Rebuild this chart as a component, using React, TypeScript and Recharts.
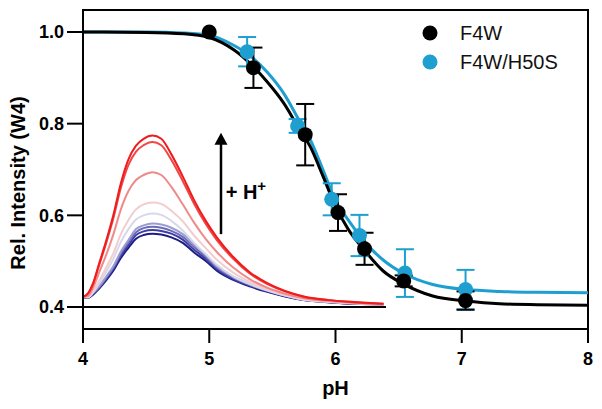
import React from 'react';
import {
  ComposedChart,
  Line,
  Scatter,
  XAxis,
  YAxis,
  ErrorBar,
  ReferenceLine,
  ReferenceDot,
  ReferenceArea,
  CartesianGrid,
  Legend,
} from 'recharts';

const FONT = '"Liberation Sans", Arial, Helvetica, sans-serif';
const BLACK = '#000000';
const BLUE = '#1e9fd0';

// ---- axis ticks ----
const xTicks = [4, 5, 6, 7, 8];
const yTicks = [0.4, 0.6, 0.8, 1.0];
const xDomain = [4, 8];
const yDomain = [0.352, 1.048];

// ---- titration points ----
const f4wPH = [5.0, 5.35, 5.76, 6.02, 6.23, 6.54, 7.03];
const f4wRel = [1.0, 0.922, 0.776, 0.606, 0.527, 0.457, 0.414];
const f4wErr = [0, 0.044, 0.067, 0.04, 0.035, 0.012, 0.02];

const h50sPH = [5.3, 5.7, 5.97, 6.19, 6.55, 7.03];
const h50sRel = [0.957, 0.795, 0.635, 0.556, 0.474, 0.438];
const h50sErr = [0.032, 0.015, 0.035, 0.045, 0.052, 0.043];

// ---- fitted curves ----
const fitF4wPH = [4.0, 4.5, 4.8, 5.0, 5.2, 5.35, 5.46, 5.59, 5.72, 5.8, 5.9, 6.0, 6.1, 6.22, 6.38, 6.54, 6.77, 7.04, 7.3, 7.6, 8.0];
const fitF4wRel = [1.0, 0.999, 0.996, 0.988, 0.96, 0.924, 0.891, 0.845, 0.785, 0.75, 0.686, 0.62, 0.57, 0.527, 0.478, 0.45, 0.424, 0.413, 0.407, 0.405, 0.404];

const fitH50sPH = [4.0, 4.5, 4.8, 5.0, 5.2, 5.33, 5.46, 5.59, 5.72, 5.8, 5.9, 6.0, 6.1, 6.2, 6.3, 6.38, 6.54, 6.77, 7.04, 7.3, 7.6, 8.0];
const fitH50sRel = [1.0, 1.0, 0.998, 0.993, 0.97, 0.947, 0.912, 0.866, 0.803, 0.765, 0.7, 0.632, 0.59, 0.553, 0.522, 0.502, 0.473, 0.449, 0.438, 0.434, 0.432, 0.431];

// ---- inset emission spectra (plotted on the same axes) ----
const specX = [4.0, 4.04, 4.08, 4.13, 4.18, 4.24, 4.3, 4.36, 4.42, 4.48, 4.55, 4.62, 4.7, 4.79, 4.88, 4.97, 5.06, 5.19, 5.32, 5.46, 5.6, 5.75, 5.95, 6.15, 6.38];
const spec1 = [0.422, 0.43, 0.452, 0.497, 0.541, 0.6, 0.67, 0.722, 0.752, 0.767, 0.774, 0.767, 0.733, 0.685, 0.633, 0.589, 0.552, 0.509, 0.476, 0.452, 0.435, 0.423, 0.415, 0.411, 0.407];
const spec2 = [0.422, 0.429, 0.45, 0.493, 0.536, 0.593, 0.66, 0.71, 0.739, 0.753, 0.76, 0.753, 0.721, 0.675, 0.625, 0.582, 0.546, 0.505, 0.473, 0.45, 0.434, 0.422, 0.415, 0.41, 0.407];
const spec3 = [0.422, 0.424, 0.442, 0.477, 0.511, 0.558, 0.613, 0.653, 0.677, 0.688, 0.694, 0.688, 0.662, 0.624, 0.584, 0.549, 0.52, 0.486, 0.461, 0.442, 0.429, 0.419, 0.413, 0.409, 0.406];
const spec4 = [0.422, 0.423, 0.435, 0.458, 0.484, 0.517, 0.559, 0.59, 0.613, 0.624, 0.628, 0.625, 0.61, 0.587, 0.556, 0.529, 0.503, 0.475, 0.455, 0.439, 0.427, 0.417, 0.412, 0.408, 0.406];
const spec5 = [0.422, 0.421, 0.432, 0.453, 0.475, 0.505, 0.542, 0.57, 0.591, 0.6, 0.604, 0.601, 0.588, 0.567, 0.54, 0.516, 0.492, 0.467, 0.45, 0.436, 0.425, 0.416, 0.411, 0.408, 0.406];
const spec6 = [0.422, 0.422, 0.431, 0.446, 0.465, 0.489, 0.521, 0.546, 0.57, 0.578, 0.582, 0.58, 0.573, 0.559, 0.536, 0.514, 0.489, 0.466, 0.45, 0.437, 0.425, 0.416, 0.411, 0.408, 0.406];
const spec7 = [0.422, 0.421, 0.43, 0.444, 0.462, 0.486, 0.517, 0.541, 0.563, 0.572, 0.575, 0.573, 0.566, 0.553, 0.531, 0.51, 0.486, 0.464, 0.448, 0.436, 0.425, 0.416, 0.411, 0.407, 0.406];
const spec8 = [0.422, 0.42, 0.429, 0.443, 0.46, 0.483, 0.512, 0.535, 0.557, 0.565, 0.568, 0.566, 0.56, 0.547, 0.525, 0.506, 0.483, 0.461, 0.447, 0.434, 0.424, 0.415, 0.411, 0.407, 0.406];
const spec9 = [0.422, 0.42, 0.427, 0.441, 0.457, 0.479, 0.507, 0.529, 0.549, 0.557, 0.56, 0.558, 0.552, 0.54, 0.519, 0.501, 0.479, 0.459, 0.445, 0.433, 0.423, 0.415, 0.41, 0.407, 0.406];
const specColors = ['#ee1c1c', '#f24545', '#f08a8a', '#f3cdcd', '#d8d8ec', '#9c9cd2', '#6a6ab8', '#3c3ca2', '#1c1c86'];
const spectra = [spec1, spec2, spec3, spec4, spec5, spec6, spec7, spec8, spec9];

// baseline under spectra
const baseX = [4.0, 6.4];
const baseY = [0.4, 0.4];

// arrow (+H+) annotation
const arrowX = 5.093;
const arrowFrom = 0.559;
const arrowTo = 0.78;
const hTextX = 5.13;
const hTextY = 0.635;

const legendNames = ['F4W', 'F4W/H50S'];
const legendColors = [BLACK, BLUE];

const toXY = (xs: number[], ys: number[]) => xs.map((x, i) => ({ x, y: ys[i] }));
const toXYE = (xs: number[], ys: number[], es: number[]) => xs.map((x, i) => ({ x, y: ys[i], err: es[i] }));

const f4wData = toXYE(f4wPH, f4wRel, f4wErr);
const h50sData = toXYE(h50sPH, h50sRel, h50sErr);
const fitF4w = toXY(fitF4wPH, fitF4wRel);
const fitH50s = toXY(fitH50sPH, fitH50sRel);
const spectraData = spectra.map((s) => toXY(specX, s));
const baseData = toXY(baseX, baseY);

// chart geometry
const CHART_W = 602;
const CHART_H = 409;
const MARGIN = { top: 10, right: 14, bottom: 0, left: 0 };
const Y_AXIS_W = 83;
const X_AXIS_H = 80;

const XTitle = (props: any) => {
  const vb = props.viewBox || { x: 83, y: 329, width: 505, height: 80 };
  return (
    <text x={vb.x + vb.width / 2} y={vb.y + 66} textAnchor="middle" fontFamily={FONT} fontWeight={700} fontSize={20} fill={BLACK}>
      pH
    </text>
  );
};

const YTitle = (props: any) => {
  const vb = props.viewBox || { x: 0, y: 10, width: 83, height: 319 };
  const x = vb.x + 24.5;
  const y = vb.y + vb.height / 2 + 13.5;
  return (
    <text x={x} y={y} transform={`rotate(-90 ${x} ${y})`} textAnchor="middle" fontFamily={FONT} fontWeight={700} fontSize={20} fill={BLACK}>
      Rel. Intensity (W4)
    </text>
  );
};

const LegendBox = () => (
  <div style={{ fontFamily: FONT, fontSize: 20, color: '#111' }}>
    {legendNames.map((n, i) => (
      <div key={n} style={{ display: 'flex', alignItems: 'center', height: 29 }}>
        <svg width={16} height={16} style={{ display: 'block' }}>
          <circle cx={8} cy={8} r={7.5} fill={legendColors[i]} />
        </svg>
        <span style={{ marginLeft: 22, lineHeight: '29px' }}>{n}</span>
      </div>
    ))}
  </div>
);

const Arrow = (p: any) => {
  const { x1, y1, x2, y2 } = p;
  const head = 12;
  const half = 6.5;
  const top = Math.min(y1, y2);
  const bottom = Math.max(y1, y2);
  return (
    <g>
      <line x1={x1} y1={bottom} x2={x2} y2={top + head - 1} stroke={BLACK} strokeWidth={2.5} />
      <polygon points={`${x1},${top} ${x1 - half},${top + head} ${x1 + half},${top + head}`} fill={BLACK} />
    </g>
  );
};

const HText = (p: any) => (
  <text x={p.cx} y={p.cy} fontFamily={FONT} fontWeight={700} fontSize={20} fill={BLACK}>
    + H
    <tspan dy={-8} fontSize={15}>+</tspan>
  </text>
);

// frame drawn from the area's own rectangle (top and right edges)
const FrameShape = (p: any) => {
  const { x, y, width, height } = p;
  if (![x, y, width, height].every((v) => typeof v === 'number' && isFinite(v))) return null;
  return (
    <path
      d={`M${x},${y} L${x + width},${y} L${x + width},${y + height}`}
      fill="none"
      stroke={BLACK}
      strokeWidth={2}
      strokeLinecap="square"
    />
  );
};

const dotShape = (color: string) => (p: any) => <circle cx={p.cx} cy={p.cy} r={7.5} fill={color} />;

export default function App() {
  return (
    <div style={{ width: CHART_W, height: CHART_H, marginLeft: -8, marginTop: -8, background: '#ffffff' }}>
      <ComposedChart width={CHART_W} height={CHART_H} margin={MARGIN}>
        <CartesianGrid
          horizontal
          vertical
          stroke={BLACK}
          strokeWidth={2}
          horizontalCoordinatesGenerator={(p: any) => [p.offset.top]}
          verticalCoordinatesGenerator={(p: any) => [p.offset.left + p.offset.width]}
        />
        <XAxis
          dataKey="x"
          type="number"
          domain={xDomain}
          ticks={xTicks}
          interval={0}
          height={X_AXIS_H}
          tickSize={14}
          tickMargin={9}
          axisLine={{ stroke: BLACK, strokeWidth: 2 }}
          tickLine={{ stroke: BLACK, strokeWidth: 2 }}
          tick={{ fill: BLACK, fontSize: 18, fontWeight: 700, fontFamily: FONT }}
          label={<XTitle />}
          allowDataOverflow
        />
        <YAxis
          type="number"
          domain={yDomain}
          ticks={yTicks}
          interval={0}
          width={Y_AXIS_W}
          tickSize={16}
          tickMargin={3}
          tickFormatter={(v: number) => v.toFixed(1)}
          axisLine={{ stroke: BLACK, strokeWidth: 2 }}
          tickLine={{ stroke: BLACK, strokeWidth: 2 }}
          tick={{ fill: BLACK, fontSize: 18, fontWeight: 700, fontFamily: FONT }}
          label={<YTitle />}
          allowDataOverflow
        />

        <ReferenceArea
          x1={xDomain[0]}
          x2={xDomain[1]}
          y1={yDomain[0]}
          y2={yDomain[1]}
          ifOverflow="visible"
          fill="none"
          stroke={BLACK}
          strokeWidth={2}
          shape={FrameShape}
        />

        {spectraData
          .map((d, i) => (
            <Line
              key={`spec${i}`}
              data={d}
              dataKey="y"
              type="monotone"
              stroke={specColors[i]}
              strokeWidth={2}
              dot={false}
              activeDot={false}
              isAnimationActive={false}
              legendType="none"
            />
          ))
          .reverse()}

        <Line data={baseData} dataKey="y" type="linear" stroke={BLACK} strokeWidth={2} dot={false} activeDot={false} isAnimationActive={false} legendType="none" />

        <Line data={fitH50s} dataKey="y" type="monotone" stroke={BLUE} strokeWidth={3} dot={false} activeDot={false} isAnimationActive={false} legendType="none" />
        <Line data={fitF4w} dataKey="y" type="monotone" stroke={BLACK} strokeWidth={3} dot={false} activeDot={false} isAnimationActive={false} legendType="none" />

        <Scatter data={h50sData} dataKey="y" fill={BLUE} shape={dotShape(BLUE)} isAnimationActive={false} name="F4W/H50S">
          <ErrorBar dataKey="err" direction="y" width={9} stroke={BLUE} strokeWidth={2} />
        </Scatter>
        <Scatter data={f4wData} dataKey="y" fill={BLACK} shape={dotShape(BLACK)} isAnimationActive={false} name="F4W">
          <ErrorBar dataKey="err" direction="y" width={9} stroke={BLACK} strokeWidth={2} />
        </Scatter>

        <ReferenceLine
          segment={[
            { x: arrowX, y: arrowFrom },
            { x: arrowX, y: arrowTo },
          ]}
          shape={Arrow}
        />
        <ReferenceDot x={hTextX} y={hTextY} r={0} shape={HText} />

        <Legend
          layout="vertical"
          align="center"
          verticalAlign="middle"
          content={<LegendBox />}
          wrapperStyle={{ position: 'absolute', left: 422, top: 18.5, width: 170 }}
        />
      </ComposedChart>
    </div>
  );
}
